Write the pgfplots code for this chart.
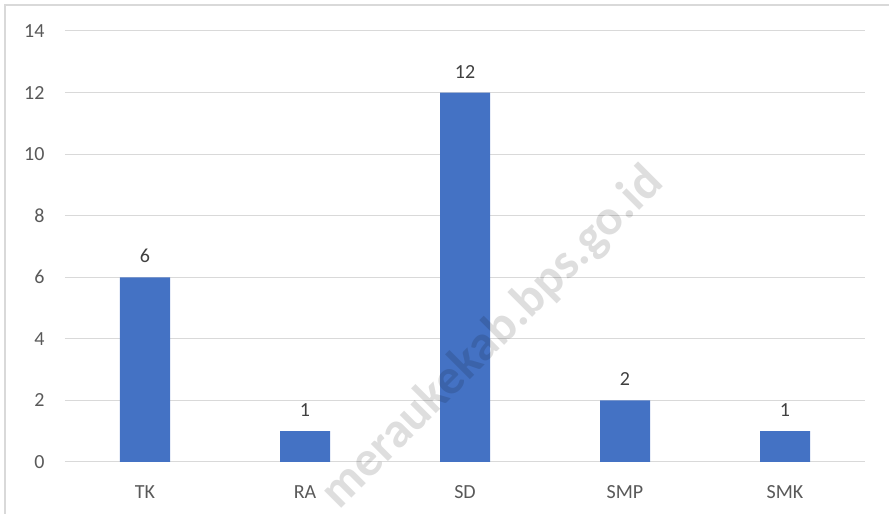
\documentclass[border=0pt]{standalone}
\usepackage{pgfplots}
\pgfplotsset{compat=1.18}
\usepackage{fontspec}
\setmainfont{Carlito}
\definecolor{barblue}{HTML}{4472C4}
\definecolor{gridgray}{HTML}{D9D9D9}
\definecolor{ticktxt}{HTML}{595959}
\definecolor{lbltxt}{HTML}{404040}
\begin{document}
\begin{tikzpicture}
\path[use as bounding box] (0pt,0pt) rectangle (889pt,514pt);
\draw[gridgray,line width=1.5pt] (5pt,0pt) -- (5pt,509pt) -- (889pt,509pt);
\begin{axis}[
  at={(65pt,52pt)}, anchor=south west,
  scale only axis, width=800pt, height=431pt,
  xmin=-0.5, xmax=4.5, ymin=0, ymax=14,
  axis line style={draw=none},
  ytick={0,2,...,14},
  xtick=data,
  xticklabels={TK,RA,SD,SMP,SMK},
  major tick length=0pt,
  ymajorgrids,
  grid style={gridgray,line width=1pt},
  tick label style={font=\fontsize{20}{22}\selectfont,text=ticktxt},
  /pgf/number format/assume math mode=true,
  yticklabel style={xshift=-17pt},
  xticklabel style={yshift=-20pt},
  nodes near coords,
  every node near coord/.append style={font=\fontsize{20}{22}\selectfont,text=lbltxt,yshift=11pt},
]
\addplot[ybar, bar width=50pt, fill=barblue, draw=none] coordinates {(0,6) (1,1) (2,12) (3,2) (4,1)};
\end{axis}
\node[rotate=45,text=black,text opacity=0.13,font=\fontsize{50}{50}\selectfont\bfseries] at (493pt,176pt) {meraukekab.bps.go.id};
\end{tikzpicture}
\end{document}
